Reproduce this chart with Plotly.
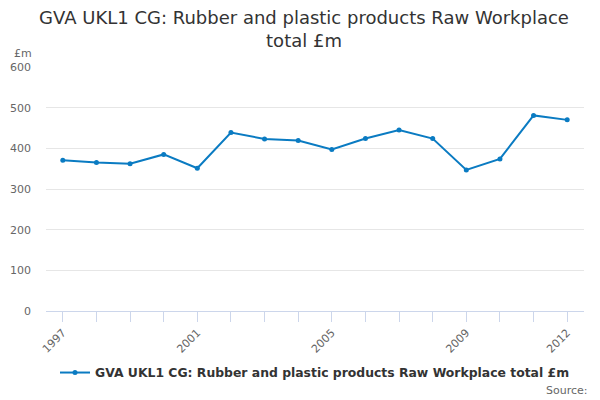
import plotly.graph_objects as go

years = list(range(1997, 2013))
values = [371, 365, 362, 385, 351, 439, 423, 419, 397, 424, 445, 424, 347, 374, 481, 470]
tick_years = [1997, 2001, 2005, 2009, 2012]
series_name = "GVA UKL1 CG: Rubber and plastic products Raw Workplace total £m"

fig = go.Figure(go.Scatter(
    x=years, y=values, mode="lines+markers", name=series_name,
    line=dict(color="#0a7bc2", width=2),
    marker=dict(size=5, color="#0a7bc2"),
))

# page has an 8px body margin, so the figure is drawn 8px smaller
fig.update_layout(
    width=592, height=392,
    plot_bgcolor="white", paper_bgcolor="white",
    font=dict(family="DejaVu Sans", color="#666666"),
    margin=dict(l=38, r=16, t=59, b=89),
    title=dict(
        text="GVA UKL1 CG: Rubber and plastic products Raw Workplace<br>total £m",
        x=0.5, xanchor="center", y=0.959, yanchor="top",
        font=dict(size=18, color="#333333"),
    ),
    showlegend=True,
    legend=dict(orientation="h", x=0.5, xanchor="center", y=-0.254, yanchor="middle",
                font=dict(size=12.4, color="#333333", weight="bold"), itemwidth=30),
    xaxis=dict(
        range=[1996.5, 2012.5], tickvals=tick_years, ticktext=[str(t) for t in tick_years],
        tickangle=-45, tickfont=dict(size=11, color="#666666"),
        showgrid=False, zeroline=False, automargin=False,
        showline=True, linecolor="#ccd6eb", linewidth=1,
        ticks="outside", ticklen=10, tickcolor="#ccd6eb",
        minor=dict(tick0=1997, dtick=1, ticks="outside", ticklen=10, tickcolor="#ccd6eb", showgrid=False),
    ),
    yaxis=dict(
        range=[0, 600], dtick=100, tickfont=dict(size=11, color="#666666"),
        showgrid=True, gridcolor="#e6e6e6", zeroline=False, showline=False,
        automargin=False, ticks="", ticklabelstandoff=14,
    ),
)

fig.add_annotation(text="£m", xref="paper", yref="paper", x=-0.063, y=1.057,
                   xanchor="left", yanchor="middle", showarrow=False,
                   font=dict(size=11, color="#666666"))
fig.add_annotation(text="Source:", xref="paper", yref="paper", x=1.011, y=-0.324,
                   xanchor="right", yanchor="middle", showarrow=False,
                   font=dict(size=11, color="#666666"))

fig.write_html("out.html")
